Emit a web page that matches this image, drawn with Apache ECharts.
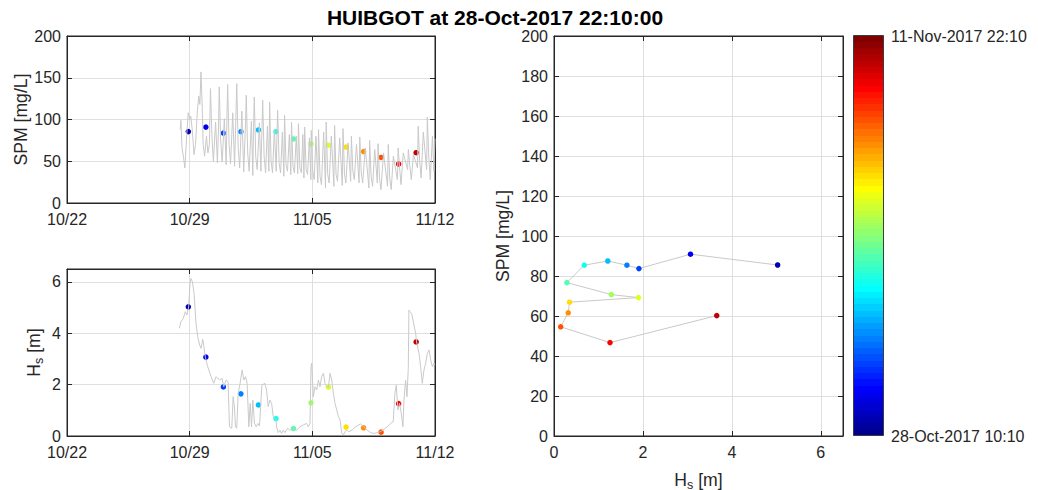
<!DOCTYPE html>
<html>
<head>
<meta charset="utf-8">
<script src="https://cdn.jsdelivr.net/npm/echarts@6/dist/echarts.min.js"></script>
<style>
  html, body { margin: 0; padding: 0; background: #ffffff; }
  #chart { width: 1038px; height: 490px; }
</style>
</head>
<body>
<div id="chart"></div>
<script>
// Station and time window
const titleText = 'HUIBGOT at 28-Oct-2017 22:10:00';
const colorbarLabels = ['11-Nov-2017 22:10', '28-Oct-2017 10:10'];
const xTickLabels = ['10/22', '10/29', '11/05', '11/12'];   // every 7 days from 22-Oct-2017

// All times are hours since 28-Oct-2017 00:00
const colorStartHour = 10 + 10 / 60;          // 28-Oct-2017 10:10
const colorEndHour = 14 * 24 + 22 + 10 / 60;  // 11-Nov-2017 22:10

// Suspended particulate matter, [hour, mg/L]
const spmSeries = [
  [11, 88], [12, 99], [13.5, 66], [15.5, 55], [17.5, 42], [20, 82], [22, 108], [24, 100], [25.5, 104],
  [27.5, 88], [30, 58], [32, 70], [34.5, 110], [36.5, 128], [38, 118], [39.5, 157], [41, 120], [42.5, 70],
  [44.5, 56], [47, 80], [49, 60], [51, 70], [52.5, 137], [54.5, 80], [56.5, 50], [59.5, 97], [62, 48],
  [63.5, 90], [64.5, 139], [66.5, 75], [68.5, 49], [71.5, 101], [74, 46], [75, 100], [76, 142], [78, 70],
  [80, 47], [83, 108], [85.5, 44], [87.5, 110], [88.5, 143], [90.5, 65], [92.5, 42], [95.5, 110], [98, 37],
  [100.5, 95], [101.5, 129], [103.5, 60], [105.5, 38], [108.5, 98], [110.5, 33], [111.5, 90], [112.5, 127],
  [114.5, 55], [116.5, 40], [119.5, 96], [121.5, 38], [123, 88], [124, 123], [126, 55], [128, 36],
  [130.5, 92], [132.5, 38], [133.5, 121], [135.5, 50], [137.5, 36], [140, 88], [142.5, 38], [143.5, 80],
  [144.5, 111], [146.5, 48], [148.5, 36], [151, 85], [153, 32], [154, 105], [156, 45], [158, 38],
  [160.5, 82], [162.5, 34], [163.5, 97], [165.5, 44], [167.5, 36], [170, 80], [172, 35], [173, 95],
  [175, 42], [177, 36], [179, 82], [180.5, 30], [181.5, 91], [183.5, 40], [185.5, 34], [188, 78], [190, 28],
  [190.5, 87], [192.5, 38], [194.5, 28], [197, 80], [199.5, 24], [200.5, 88], [202.5, 32], [204.5, 22],
  [207.5, 85], [210, 18], [211, 97], [213, 35], [215, 24], [218, 80], [221.5, 20], [222.5, 93], [224.5, 34],
  [226.5, 26], [229.5, 78], [233, 21], [234, 89], [236, 35], [238, 24], [241, 72], [244.5, 26], [245.5, 80],
  [247.5, 38], [249.5, 28], [252.5, 70], [256, 24], [257, 79], [259, 36], [261, 24], [264.5, 66],
  [269.5, 18], [270.5, 75], [272.5, 32], [274.5, 20], [277.5, 64], [281, 24], [282, 71], [284, 30],
  [286, 16], [289.5, 60], [295, 20], [296, 70], [298, 30], [300, 16], [303, 56], [308.5, 28], [309.5, 66],
  [311.5, 42], [313.5, 22], [316.5, 60], [322.5, 40], [323.5, 64], [325.5, 45], [327.5, 28], [330.5, 58],
  [336, 42], [337, 92], [339, 50], [341, 30], [344, 85], [348.5, 40], [349.5, 103], [351.5, 55],
  [353.5, 28], [356.5, 80], [358.5, 38], [360, 77]
];

// Significant wave height, [hour, m]
const hsSeries = [
  [9.8, 4.19], [12.1, 4.45], [15.3, 4.58], [18.0, 4.84], [20.3, 4.71], [22.6, 5.03], [24.5, 5.94],
  [25.8, 6.13], [27.7, 6.01], [30.0, 5.55], [32.7, 4.38], [35.0, 3.87], [37.7, 3.54], [39.6, 3.41],
  [41.9, 3.76], [43.2, 3.54], [45.5, 3.06], [48.7, 2.70], [53.3, 2.31], [57.0, 2.05], [60.2, 2.31],
  [64.7, 2.18], [68.4, 2.24], [70.7, 1.92], [73.9, 2.18], [76.6, 2.11], [78.5, 0.36], [81.7, 0.30],
  [83.5, 1.53], [85.3, 1.14], [86.7, 0.36], [88.5, 0.30], [90.4, 1.66], [93.1, 2.05], [95.9, 2.57],
  [98.2, 2.18], [100.5, 2.31], [102.7, 2.05], [105.0, 0.36], [106.9, 1.27], [108.7, 0.36], [110.5, 1.40],
  [112.8, 0.49], [115.1, 0.36], [117.4, 0.49], [119.7, 0.39], [122.9, 1.98], [127.0, 2.05], [129.3, 1.79],
  [131.6, 1.14], [133.9, 1.40], [136.2, 1.27], [138.5, 0.75], [142.1, 0.66], [143.0, 0.36], [145.3, 0.13],
  [147.6, 0.23], [149.9, 0.10], [152.2, 0.23], [154.5, 0.13], [158.1, 0.30], [161.3, 0.23], [165.9, 0.26],
  [170.5, 0.23], [175.1, 0.36], [179.7, 0.43], [184.2, 0.49], [186.5, 0.36], [188.8, 0.49], [190.2, 2.70],
  [191.1, 2.83], [193.4, 1.53], [195.7, 1.92], [198.0, 1.79], [200.3, 2.18], [202.5, 1.92], [204.8, 2.31],
  [207.1, 2.44], [209.4, 2.05], [211.7, 1.92], [214.0, 1.89], [216.3, 2.44], [218.6, 2.18], [220.9, 1.66],
  [223.1, 1.27], [225.4, 1.01], [227.7, 0.75], [230.0, 0.62], [232.3, 0.10], [234.6, 0.04], [236.9, 0.17],
  [239.2, 0.23], [241.9, 0.17], [246.5, 0.23], [251.1, 0.36], [255.6, 0.43], [257.9, 0.47], [262.5, 0.36],
  [267.1, 0.23], [271.7, 0.13], [276.2, 0.10], [280.8, 0.13], [285.4, 0.17], [290.0, 0.26], [294.6, 0.36],
  [299.1, 0.49], [302.8, 0.56], [305.1, 1.66], [307.0, 1.98], [309.2, 1.01], [311.5, 1.27], [313.8, 0.88],
  [316.1, 0.36], [317.5, 1.40], [319.7, 2.18], [321.6, 1.53], [323.4, 2.63], [324.3, 4.90], [325.7, 4.84],
  [328.0, 4.77], [331.2, 4.32], [333.5, 3.99], [334.8, 3.66], [338.1, 3.22], [340.3, 2.70], [342.6, 2.05],
  [344.9, 2.57], [347.2, 2.83], [349.5, 3.22], [351.8, 3.35], [354.1, 2.96], [356.4, 2.70], [358.7, 2.83],
  [360, 2.76]
];

// Daily samples at 22:10, 28-Oct to 10-Nov-2017
const sampleHours = [22.17, 46.17, 70.17, 94.17, 118.17, 142.17, 166.17, 190.17, 214.17, 238.17, 262.17, 286.17, 310.17, 334.17];
const sampleSpm = [85.5, 90.9, 83.7, 85.4, 87.5, 85.4, 76.7, 70.7, 69.2, 66.9, 61.6, 54.6, 46.7, 60.2];
const sampleHs = [5.03, 3.07, 1.91, 1.64, 1.21, 0.68, 0.29, 1.29, 1.90, 0.35, 0.32, 0.15, 1.26, 3.66];

// ---------------------------------------------------------------------------
const FONT = '"Liberation Sans", Arial, Helvetica, sans-serif';
const INK = '#262626';
const GRID = '#dfdfdf';
const LINE = '#c9c9c9';
const DAY_OFFSET = 6;                 // 28-Oct is day 6 after 22-Oct
const toDay = h => DAY_OFFSET + h / 24;

// MATLAB-style jet colormap with 64 levels
function jet(m) {
  const n = Math.ceil(m / 4);
  const u = [];
  for (let i = 1; i <= n; i++) u.push(i / n);
  for (let i = 0; i < n - 1; i++) u.push(1);
  for (let i = n; i >= 1; i--) u.push(i / n);
  const g0 = Math.ceil(n / 2) - (m % 4 === 1 ? 1 : 0);
  const out = [];
  for (let k = 1; k <= m; k++) {
    const gi = k - g0, ri = k - g0 - n, bi = k - g0 + n;
    const pick = i => (i >= 1 && i <= u.length) ? u[i - 1] : 0;
    const c = [pick(ri), pick(gi), pick(bi)].map(v => Math.round(v * 255));
    out.push(`rgb(${c[0]},${c[1]},${c[2]})`);
  }
  return out;
}
const jetColors = jet(64);
const colorStep = (colorEndHour - colorStartHour) / jetColors.length;
const pieces = jetColors.map((c, i) => {
  const p = { gte: colorStartHour + i * colorStep, color: c };
  if (i < jetColors.length - 1) p.lt = colorStartHour + (i + 1) * colorStep;
  else p.lte = colorEndHour;
  return p;
});
const colorStops = [];
jetColors.forEach((c, i) => {
  colorStops.push({ offset: i / jetColors.length, color: c });
  colorStops.push({ offset: (i + 1) / jetColors.length, color: c });
});

const tickStyle = { inside: true, length: 5, lineStyle: { color: INK, width: 1 } };
const labelStyle = { color: INK, fontSize: 16, fontFamily: FONT };
const nameStyle = { color: INK, fontSize: 17.6, fontFamily: FONT };
const hsName = '{h|H}{s|s}{h| [m]}';
const hsRich = {
  h: { color: INK, fontSize: 17.6, fontFamily: FONT },
  s: { color: INK, fontSize: 12.5, fontFamily: FONT, padding: [9, 0, 0, 0] }
};
const dotStyle = { opacity: 1, borderWidth: 0 };

function mainAxis(gridIndex, position, min, max, interval, formatter, extra) {
  return Object.assign({
    type: 'value', gridIndex, position, min, max, interval,
    axisLine: { show: true, onZero: false, lineStyle: { color: INK, width: 1 } },
    axisTick: tickStyle,
    axisLabel: Object.assign({ formatter, margin: position === 'bottom' ? 8 : 6 }, labelStyle),
    splitLine: { show: true, lineStyle: { color: GRID, width: 1 } },
    nameTextStyle: nameStyle
  }, extra || {});
}
function mirrorAxis(gridIndex, position, min, max, interval) {
  return {
    type: 'value', gridIndex, position, min, max, interval,
    axisLine: { show: true, onZero: false, lineStyle: { color: INK, width: 1 } },
    axisTick: tickStyle,
    axisLabel: { show: false },
    splitLine: { show: false }
  };
}
const dateFmt = v => (v % 7 === 0 ? xTickLabels[v / 7] : '');
const evenFmt = v => (v % 2 === 0 ? String(v) : '');

const gridCommon = { show: true, borderColor: INK, borderWidth: 1, backgroundColor: 'transparent', containLabel: false, outerBoundsMode: 'none' };

const option = {
  animation: false,
  backgroundColor: '#ffffff',
  grid: [
    Object.assign({ left: 67, top: 36, width: 368, height: 167 }, gridCommon),
    Object.assign({ left: 67, top: 269, width: 368, height: 167 }, gridCommon),
    Object.assign({ left: 554, top: 36, width: 289, height: 400 }, gridCommon)
  ],
  xAxis: [
    mainAxis(0, 'bottom', 0, 21, 7, dateFmt),
    mirrorAxis(0, 'top', 0, 21, 7),
    mainAxis(1, 'bottom', 0, 21, 7, dateFmt),
    mirrorAxis(1, 'top', 0, 21, 7),
    mainAxis(2, 'bottom', 0, 6.5, 2, evenFmt, {
      name: hsName, nameLocation: 'middle', nameGap: 33,
      nameTextStyle: Object.assign({ rich: hsRich }, nameStyle)
    }),
    mirrorAxis(2, 'top', 0, 6.5, 2)
  ],
  yAxis: [
    mainAxis(0, 'left', 0, 200, 50, null, { name: 'SPM [mg/L]', nameLocation: 'middle', nameGap: 36 }),
    mirrorAxis(0, 'right', 0, 200, 50),
    mainAxis(1, 'left', 0, 6.5, 2, evenFmt, {
      name: hsName, nameLocation: 'middle', nameGap: 22,
      nameTextStyle: Object.assign({ rich: hsRich }, nameStyle)
    }),
    mirrorAxis(1, 'right', 0, 6.5, 2),
    mainAxis(2, 'left', 0, 200, 20, null, { name: 'SPM [mg/L]', nameLocation: 'middle', nameGap: 42 }),
    mirrorAxis(2, 'right', 0, 200, 20)
  ],
  visualMap: {
    type: 'piecewise', show: false, dimension: 2, seriesIndex: [1, 3, 5], pieces
  },
  series: [
    {
      type: 'line', xAxisIndex: 0, yAxisIndex: 0, showSymbol: false, silent: true,
      lineStyle: { color: LINE, width: 1 },
      data: spmSeries.map(([h, v]) => [toDay(h), v])
    },
    {
      type: 'scatter', xAxisIndex: 0, yAxisIndex: 0, symbolSize: 5.5, silent: true, itemStyle: dotStyle,
      data: sampleHours.map((h, i) => [toDay(h), sampleSpm[i], h])
    },
    {
      type: 'line', xAxisIndex: 2, yAxisIndex: 2, showSymbol: false, silent: true,
      lineStyle: { color: LINE, width: 1 },
      data: hsSeries.map(([h, v]) => [toDay(h), v])
    },
    {
      type: 'scatter', xAxisIndex: 2, yAxisIndex: 2, symbolSize: 5.5, silent: true, itemStyle: dotStyle,
      data: sampleHours.map((h, i) => [toDay(h), sampleHs[i], h])
    },
    {
      type: 'line', xAxisIndex: 4, yAxisIndex: 4, showSymbol: false, silent: true,
      lineStyle: { color: LINE, width: 1 },
      data: sampleHours.map((h, i) => [sampleHs[i], sampleSpm[i]])
    },
    {
      type: 'scatter', xAxisIndex: 4, yAxisIndex: 4, symbolSize: 5.5, silent: true, z: 5, itemStyle: dotStyle,
      data: sampleHours.map((h, i) => [sampleHs[i], sampleSpm[i], h])
    }
  ],
  graphic: [
    {
      type: 'text', x: 495, y: 17,
      style: { text: titleText, fill: '#000000', fontSize: 21, fontWeight: 'bold', fontFamily: FONT, align: 'center', verticalAlign: 'middle' }
    },
    {
      type: 'rect', shape: { x: 853.5, y: 35.5, width: 30, height: 400 },
      style: { fill: { type: 'linear', x: 0, y: 1, x2: 0, y2: 0, colorStops }, stroke: '#3c3c3c', lineWidth: 1 }
    },
    {
      type: 'text', x: 891, y: 36,
      style: { text: colorbarLabels[0], fill: INK, fontSize: 16, fontFamily: FONT, align: 'left', verticalAlign: 'middle' }
    },
    {
      type: 'text', x: 891, y: 436,
      style: { text: colorbarLabels[1], fill: INK, fontSize: 16, fontFamily: FONT, align: 'left', verticalAlign: 'middle' }
    }
  ]
};

const chart = echarts.init(document.getElementById('chart'), null, { renderer: 'svg' });
chart.setOption(option);
</script>
</body>
</html>
